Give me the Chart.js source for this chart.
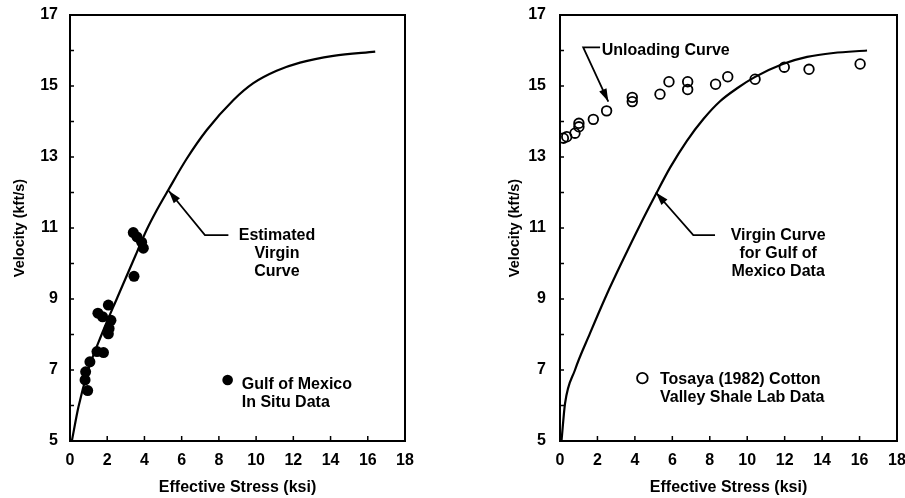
<!DOCTYPE html>
<html>
<head>
<meta charset="utf-8">
<script src="https://cdn.jsdelivr.net/npm/chart.js@4.4.0/dist/chart.umd.min.js"></script>
<style>
  body { margin: 0; background: #fff; overflow: hidden; }
  .panel { position: absolute; top: 0; }
  #left { left: 0; }
  #right { left: 495px; }
</style>
</head>
<body>
<div class="panel" id="left"><canvas id="gulf-chart" width="450" height="498"></canvas></div>
<div class="panel" id="right"><canvas id="tosaya-chart" width="410" height="498"></canvas></div>
<script>
const FONT = "'Liberation Sans', Arial, Helvetica, sans-serif";

// Estimated virgin curve (left panel)
const virginStressA = [0.1, 0.45, 0.98, 1.7, 2.55, 3.58, 4.12, 4.66, 5.28, 6.27, 7.35, 8.77, 9.85, 11.1, 12.36, 14.15, 16.4];
const virginVelA = [5.0, 5.95, 7.0, 8.0, 9.05, 10.3, 10.95, 11.5, 12.07, 12.95, 13.76, 14.6, 15.08, 15.43, 15.66, 15.85, 15.97];

// Gulf of Mexico in situ data
const gulfStress = [3.4, 3.6, 3.85, 3.94, 3.44, 2.06, 1.5, 1.75, 2.2, 2.1, 2.06, 1.45, 1.8, 1.07, 0.84, 0.81, 0.95];
const gulfVel = [10.87, 10.75, 10.6, 10.43, 9.64, 8.83, 8.6, 8.5, 8.4, 8.17, 8.02, 7.52, 7.49, 7.23, 6.95, 6.72, 6.42];

// Virgin curve for Gulf of Mexico data (right panel)
const virginStressB = [0.08, 0.27, 0.8, 1.6, 2.49, 3.38, 4.27, 5.07, 5.88, 6.77, 7.66, 8.55, 9.5, 10.4, 11.9, 13.2, 14.6, 16.4];
const virginVelB = [5.0, 6.06, 7.0, 8.03, 9.12, 10.12, 11.08, 11.9, 12.7, 13.45, 14.07, 14.57, 14.95, 15.25, 15.62, 15.82, 15.93, 16.0];

// Tosaya (1982) Cotton Valley shale lab data (unloading)
const tosayaStress = [0.18, 0.36, 0.8, 1.01, 1.01, 1.78, 2.49, 3.86, 3.86, 5.34, 5.82, 6.82, 6.82, 8.31, 8.96, 10.42, 11.98, 13.3, 16.03];
const tosayaVel = [13.53, 13.57, 13.67, 13.95, 13.85, 14.06, 14.3, 14.68, 14.56, 14.77, 15.12, 15.12, 14.9, 15.05, 15.26, 15.19, 15.53, 15.47, 15.62];

const velocityLabels = [5, 7, 9, 11, 13, 15, 17];

const toXY = (xs, ys) => xs.map((x, i) => ({ x: x, y: ys[i] }));

// box round the plot and short inward tick marks
const framePlugin = {
    id: 'frame',
    afterDraw(chart) {
        const { ctx, chartArea: a, scales: { x, y } } = chart;
        ctx.save();
        ctx.strokeStyle = '#000';
        ctx.lineWidth = 2;
        ctx.strokeRect(a.left, a.top, a.right - a.left, a.bottom - a.top);
        ctx.lineWidth = 1.5;
        ctx.beginPath();
        x.ticks.forEach(t => {
            const px = x.getPixelForValue(t.value);
            ctx.moveTo(px, a.bottom);
            ctx.lineTo(px, a.bottom - 5);
        });
        y.ticks.forEach(t => {
            const py = y.getPixelForValue(t.value);
            ctx.moveTo(a.left, py);
            ctx.lineTo(a.left + 4, py);
        });
        ctx.stroke();
        ctx.restore();
    }
};

// labels, leader arrows and key symbol, placed in data units
const notesPlugin = {
    id: 'notes',
    afterDatasetsDraw(chart, args, opts) {
        const { ctx, scales: { x, y } } = chart;
        const px = v => x.getPixelForValue(v);
        const py = v => y.getPixelForValue(v);
        ctx.save();
        ctx.fillStyle = '#000';
        ctx.strokeStyle = '#000';
        ctx.font = 'bold 16px ' + FONT;
        ctx.textBaseline = 'middle';
        (opts.texts || []).forEach(n => {
            ctx.textAlign = n.align;
            n.lines.forEach((s, i) => ctx.fillText(s, px(n.x), py(n.y) + i * 18));
        });
        (opts.arrows || []).forEach(pts => {
            const p = pts.map(q => [px(q[0]), py(q[1])]);
            ctx.lineWidth = 1.8;
            ctx.beginPath();
            p.forEach((q, i) => i ? ctx.lineTo(q[0], q[1]) : ctx.moveTo(q[0], q[1]));
            ctx.stroke();
            const [tx, ty] = p[p.length - 1];
            const [sx, sy] = p[p.length - 2];
            const ang = Math.atan2(ty - sy, tx - sx);
            const c = Math.cos(ang), s = Math.sin(ang);
            ctx.beginPath();
            ctx.moveTo(tx, ty);
            ctx.lineTo(tx - 13 * c + 4 * s, ty - 13 * s - 4 * c);
            ctx.lineTo(tx - 13 * c - 4 * s, ty - 13 * s + 4 * c);
            ctx.closePath();
            ctx.fill();
        });
        const k = opts.key;
        if (k) {
            ctx.beginPath();
            ctx.arc(px(k.x), py(k.y), 5.3, 0, Math.PI * 2);
            if (k.filled) {
                ctx.fill();
            } else {
                ctx.fillStyle = '#fff';
                ctx.fill();
                ctx.lineWidth = 1.8;
                ctx.stroke();
            }
        }
        ctx.restore();
    }
};

function axes(yWidth, yPad) {
    const tickFont = { family: FONT, size: 16, weight: 'bold' };
    return {
        x: {
            type: 'linear', min: 0, max: 18,
            afterFit: s => { s.height = 57; s.paddingLeft = 0; s.paddingRight = 0; },
            grid: { display: false, drawTicks: false },
            border: { display: false },
            ticks: { stepSize: 2, padding: 10, color: '#000', font: tickFont },
            title: { display: true, text: 'Effective Stress (ksi)', color: '#000',
                     font: { family: FONT, size: 16, weight: 'bold' }, padding: { top: 0, bottom: 1 } }
        },
        y: {
            min: 5, max: 17,
            afterFit: s => { s.width = yWidth; s.paddingTop = 0; s.paddingBottom = 0; },
            grid: { display: false, drawTicks: false },
            border: { display: false },
            ticks: { stepSize: 1, autoSkip: false, padding: yPad, color: '#000', font: tickFont,
                     callback: v => velocityLabels.includes(v) ? v : '' },
            title: { display: true, text: 'Velocity (kft/s)', color: '#000',
                     font: { family: FONT, size: 14.5, weight: 'bold' }, padding: { top: 11, bottom: 0 } }
        }
    };
}

// Left: Gulf of Mexico in situ data
const ctx1 = document.getElementById('gulf-chart').getContext('2d');
const gulfChart = new Chart(ctx1, {
    type: 'scatter',
    data: {
        datasets: [{
            label: 'Gulf of Mexico In Situ Data',
            data: toXY(gulfStress, gulfVel),
            pointRadius: 5.5,
            pointBackgroundColor: '#000',
            pointBorderWidth: 0
        }, {
            label: 'Estimated Virgin Curve',
            data: toXY(virginStressA, virginVelA),
            showLine: true,
            cubicInterpolationMode: 'monotone',
            borderColor: '#000',
            borderWidth: 2.2,
            pointRadius: 0
        }]
    },
    options: {
        responsive: false,
        animation: false,
        layout: { padding: { top: 15, right: 45, bottom: 0, left: 0 } },
        scales: axes(70, 12),
        plugins: {
            legend: { display: false },
            tooltip: { enabled: false },
            notes: {
                texts: [
                    { x: 11.12, y: 10.8, align: 'center', lines: ['Estimated', 'Virgin', 'Curve'] },
                    { x: 9.23, y: 6.58, align: 'left', lines: ['Gulf of Mexico', 'In Situ Data'] }
                ],
                arrows: [[[8.51, 10.8], [7.25, 10.8], [5.3, 12.05]]],
                key: { x: 8.47, y: 6.72, filled: true }
            }
        }
    },
    plugins: [framePlugin, notesPlugin]
});

// Right: Tosaya (1982) lab data against the virgin curve
const ctx2 = document.getElementById('tosaya-chart').getContext('2d');
const tosayaChart = new Chart(ctx2, {
    type: 'scatter',
    data: {
        datasets: [{
            label: 'Tosaya (1982) Cotton Valley Shale Lab Data',
            data: toXY(tosayaStress, tosayaVel),
            pointRadius: 4.8,
            pointBackgroundColor: 'rgba(255,255,255,0)',
            pointBorderColor: '#000',
            pointBorderWidth: 1.8
        }, {
            label: 'Virgin Curve for Gulf of Mexico Data',
            data: toXY(virginStressB, virginVelB),
            showLine: true,
            cubicInterpolationMode: 'monotone',
            borderColor: '#000',
            borderWidth: 2.2,
            pointRadius: 0
        }]
    },
    options: {
        responsive: false,
        animation: false,
        layout: { padding: { top: 15, right: 8, bottom: 0, left: 0 } },
        scales: axes(65, 14),
        plugins: {
            legend: { display: false },
            tooltip: { enabled: false },
            notes: {
                texts: [
                    { x: 2.23, y: 16.0, align: 'left', lines: ['Unloading Curve'] },
                    { x: 11.65, y: 10.8, align: 'center', lines: ['Virgin Curve', 'for Gulf of', 'Mexico Data'] },
                    { x: 5.34, y: 6.72, align: 'left', lines: ['Tosaya (1982) Cotton', 'Valley Shale Lab Data'] }
                ],
                arrows: [
                    [[2.14, 16.09], [1.24, 16.09], [2.58, 14.56]],
                    [[8.28, 10.8], [7.12, 10.8], [5.12, 12.0]]
                ],
                key: { x: 4.4, y: 6.77, filled: false }
            }
        }
    },
    plugins: [framePlugin, notesPlugin]
});
</script>
</body>
</html>
